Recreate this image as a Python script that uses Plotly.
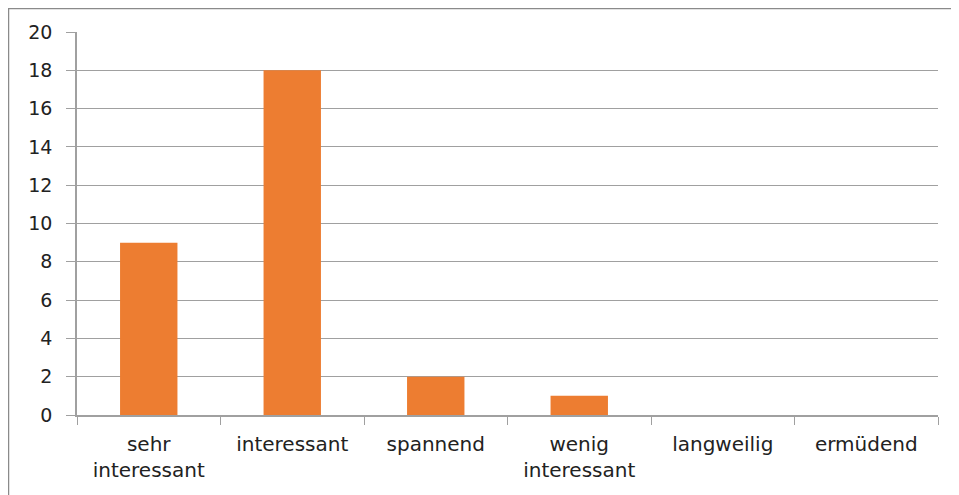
import plotly.graph_objects as go

categories = ["sehr<br>interessant", "interessant", "spannend", "wenig<br>interessant", "langweilig", "ermüdend"]
values = [9, 18, 2, 1, 0, 0]
y_ticks = [0, 2, 4, 6, 8, 10, 12, 14, 16, 18, 20]

# figure is placed at (8, 8) in the page by the body margin
W, H = 951, 487
L, R, T, B = 69, 21, 24, 80
pw, ph = W - L - R, H - T - B

fig = go.Figure(go.Bar(x=categories, y=values, marker=dict(color="#ED7D31", line=dict(width=0)), width=0.4))

fig.update_layout(
    width=W, height=H,
    margin=dict(l=L, r=R, t=T, b=B),
    plot_bgcolor="white", paper_bgcolor="white",
    font=dict(family="DejaVu Sans, sans-serif", size=20, color="#222"),
    showlegend=False,
    bargap=0.6,
)
fig.update_xaxes(
    showline=True, linecolor="#A0A0A0", linewidth=1.5,
    ticks="outside", ticklen=8, tickcolor="#A0A0A0", tickson="boundaries",
    showgrid=False, tickfont=dict(size=20), ticklabelstandoff=10,
)
fig.update_yaxes(
    range=[0, 20], tickvals=y_ticks,
    showline=True, linecolor="#A0A0A0", linewidth=1.5,
    ticks="outside", ticklen=9, tickcolor="#A0A0A0",
    showgrid=True, gridcolor="#A0A0A0", gridwidth=1.2,
    zeroline=False, tickfont=dict(size=19), ticklabelstandoff=10,
)
# outer chart border
fig.add_shape(type="rect", xref="paper", yref="paper",
              x0=(0.5 - L) / pw, x1=(W + 5 - L) / pw,
              y0=-(B + 10) / ph, y1=(ph + T - 0.5) / ph,
              line=dict(color="#8A8A8A", width=1.5), fillcolor="rgba(0,0,0,0)", layer="below")

fig.write_html("out.html")
